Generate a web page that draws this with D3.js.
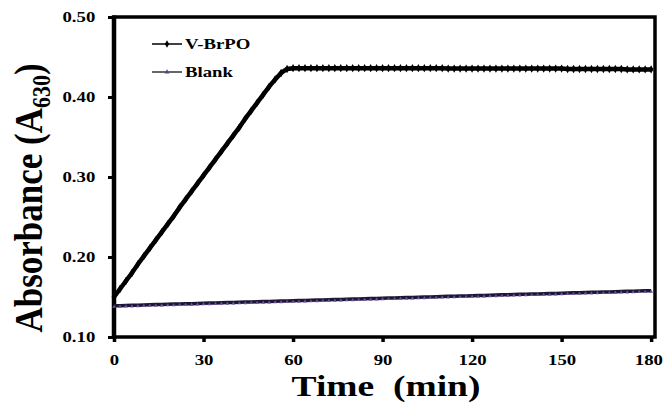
<!DOCTYPE html>
<html>
<head>
<meta charset="utf-8">
<script src="https://cdn.jsdelivr.net/npm/d3@7"></script>
<style>
  body { margin: 0; background: #fff; }
  text { font-family: "Liberation Serif", "Times New Roman", serif; font-weight: bold; }
</style>
</head>
<body>
<div id="chart"></div>
<script>
// sampled times (min)
const times = [0,2,4,6,8,10,12,14,16,18,20,22,24,26,28,30,32,34,36,38,40,42,44,46,48,50,52,54,56,58,
  60,62,64,66,68,70,72,74,76,78,80,82,84,86,88,90,92,94,96,98,100,102,104,106,108,110,
  112,114,116,118,120,122,124,126,128,130,132,134,136,138,140,142,144,146,148,150,
  152,154,156,158,160,162,164,166,168,170,172,174,176,178,180];

const vbrpo = [0.150,0.160,0.170,0.180,0.191,0.201,0.211,0.221,0.231,0.241,0.251,0.262,0.272,0.282,0.292,
  0.302,0.312,0.322,0.332,0.342,0.352,0.362,0.373,0.383,0.393,0.403,0.413,0.422,0.430,0.435,
  0.436,0.436,0.436,0.436,0.436,0.436,0.436,0.436,0.436,0.436,0.436,0.436,0.436,0.436,0.436,0.436,
  0.436,0.436,0.436,0.436,0.436,0.436,0.436,0.436,0.436,0.436,
  0.4355,0.4355,0.4355,0.4355,0.4355,0.4355,0.4355,0.4355,0.4355,0.4355,
  0.4355,0.4355,0.4355,0.4355,0.4355,0.4355,0.4355,0.4355,0.4355,0.4355,
  0.435,0.435,0.435,0.435,0.435,0.435,0.435,0.435,0.435,0.435,
  0.4345,0.4345,0.4345,0.4345,0.4345];

const blank = [0.1390,0.1392,0.1394,0.1396,0.1398,0.1400,0.1403,0.1405,0.1407,0.1409,0.1411,0.1413,0.1415,
  0.1417,0.1419,0.1422,0.1424,0.1426,0.1428,0.1430,0.1432,0.1434,0.1436,0.1438,0.1440,0.1443,0.1445,
  0.1447,0.1449,0.1451,0.1453,0.1455,0.1457,0.1459,0.1461,0.1464,0.1466,0.1468,0.1470,0.1472,0.1474,
  0.1476,0.1478,0.1480,0.1482,0.1485,0.1487,0.1489,0.1491,0.1493,0.1495,0.1497,0.1499,0.1501,0.1503,
  0.1506,0.1508,0.1510,0.1512,0.1514,0.1516,0.1518,0.1520,0.1522,0.1524,0.1527,0.1529,0.1531,0.1533,
  0.1535,0.1537,0.1539,0.1541,0.1543,0.1545,0.1548,0.1550,0.1552,0.1554,0.1556,0.1558,0.1560,0.1562,
  0.1564,0.1566,0.1569,0.1571,0.1573,0.1575,0.1577,0.1579];

const xTicks = [0, 30, 60, 90, 120, 150, 180];
const yTicks = [0.10, 0.20, 0.30, 0.40, 0.50];
const seriesNames = ["V-BrPO", "Blank"];

const width = 663, height = 405;
const plotLeft = 114, plotRight = 655, plotTop = 17, plotBottom = 337;
const sx = 1.25; // horizontal stretch of the glyphs

const svg = d3.select("#chart").append("svg")
  .attr("width", width)
  .attr("height", height);

const x = d3.scaleLinear().domain([0, 181.3]).range([plotLeft, plotRight]);
const y = d3.scaleLinear().domain([0.10, 0.50]).range([plotBottom, plotTop]);

// frame
svg.append("rect")
  .attr("x", plotLeft).attr("y", plotTop)
  .attr("width", plotRight - plotLeft).attr("height", plotBottom - plotTop)
  .attr("fill", "none").attr("stroke", "#000").attr("stroke-width", 3.5);
svg.append("line")
  .attr("x1", plotLeft).attr("x2", plotLeft).attr("y1", plotTop - 1.5).attr("y2", plotBottom + 2)
  .attr("stroke", "#000").attr("stroke-width", 4.5);

// y axis
const gy = svg.append("g")
  .attr("transform", `translate(${plotLeft},0)`)
  .call(d3.axisLeft(y).tickValues(yTicks).tickFormat(d3.format(".2f")).tickSize(6).tickPadding(9));
gy.select(".domain").remove();
gy.selectAll(".tick line").attr("stroke-width", 3);
gy.selectAll(".tick text")
  .attr("font-size", 15).attr("font-family", "Liberation Serif").attr("font-weight", "bold")
  .attr("transform", `scale(${sx},1)`);

// x axis
const gx = svg.append("g")
  .attr("transform", `translate(0,${plotBottom})`)
  .call(d3.axisBottom(x).tickValues(xTicks).tickSize(5).tickPadding(12));
gx.select(".domain").remove();
gx.selectAll(".tick line").attr("stroke-width", 3.5);
gx.selectAll(".tick text")
  .attr("font-size", 15).attr("font-family", "Liberation Serif").attr("font-weight", "bold")
  .attr("transform", `scale(${sx},1)`);
// last label sits on the right edge, keep it inside the page
gx.selectAll(".tick text").filter(d => d === 180).attr("text-anchor", "end").attr("x", 9);

const line = d3.line().x((d, i) => x(times[i])).y(d => y(d));

// blank
svg.append("path").datum(blank)
  .attr("d", line).attr("fill", "none")
  .attr("stroke", "#1c1733").attr("stroke-width", 3.5);
svg.append("g").selectAll("path").data(blank).join("path")
  .attr("transform", (d, i) => `translate(${x(times[i])},${y(d) + 1})`)
  .attr("d", d3.symbol(d3.symbolTriangle, 6))
  .attr("fill", "#6a4f9c");

// V-BrPO
svg.append("path").datum(vbrpo)
  .attr("d", line).attr("fill", "none")
  .attr("stroke", "#000").attr("stroke-width", 4.5);
svg.append("g").selectAll("path").data(vbrpo).join("path")
  .attr("transform", (d, i) => `translate(${x(times[i])},${y(d)})`)
  .attr("d", d3.symbol(d3.symbolDiamond, 20))
  .attr("fill", "#000");

// legend
const legend = svg.append("g");
seriesNames.forEach((name, i) => {
  const ly = 44 + i * 28;
  legend.append("line")
    .attr("x1", 152).attr("x2", 182).attr("y1", ly).attr("y2", ly)
    .attr("stroke", i === 0 ? "#000" : "#333").attr("stroke-width", 1.5);
  legend.append("path")
    .attr("transform", `translate(167,${ly})`)
    .attr("d", d3.symbol(i === 0 ? d3.symbolDiamond : d3.symbolTriangle, i === 0 ? 16 : 10))
    .attr("fill", i === 0 ? "#000" : "#5b3f8f");
  legend.append("text")
    .attr("transform", `translate(185,${ly + 5}) scale(${sx},1)`)
    .attr("font-size", 15)
    .text(name);
});

// axis titles
svg.append("text")
  .attr("transform", `translate(386,396) scale(${sx},1)`)
  .attr("text-anchor", "middle")
  .attr("font-size", 30)
  .attr("xml:space", "preserve")
  .style("white-space", "pre")
  .text("Time  (min)");

const yt = svg.append("text")
  .attr("transform", `translate(42,198) scale(1.15,1) rotate(-90)`)
  .attr("text-anchor", "middle")
  .attr("font-size", 35);
yt.append("tspan").text("Absorbance (A");
yt.append("tspan").attr("font-size", 22).attr("dy", 7).text("630");
yt.append("tspan").attr("dy", -7).text(")");
</script>
</body>
</html>
